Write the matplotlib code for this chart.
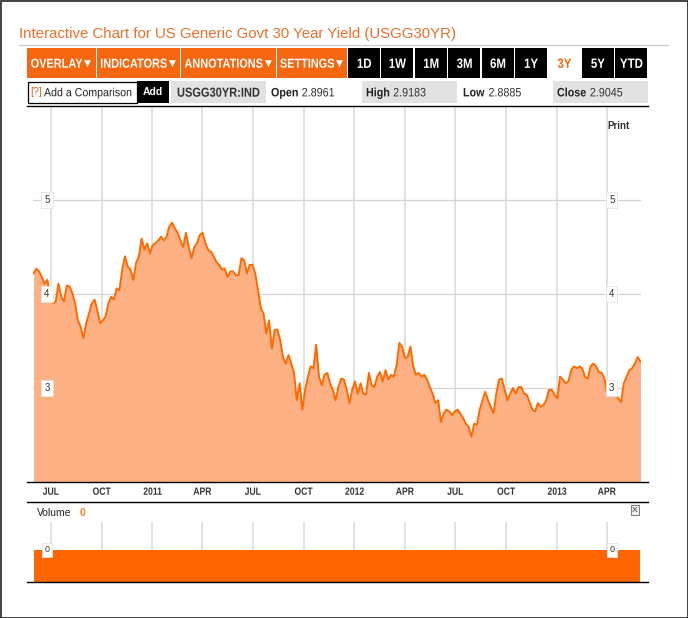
import matplotlib
matplotlib.use("Agg")
import numpy as np
import pandas as pd
import matplotlib.pyplot as plt
import matplotlib.dates as mdates
from matplotlib.patches import Rectangle, PathPatch
from matplotlib.textpath import TextPath
from matplotlib.font_manager import FontProperties
from matplotlib.transforms import Affine2D, blended_transform_factory

# 30 year yield (roughly every few trading days)
yields = [4.22, 4.27, 4.24, 4.18, 4.11, 4.15, 3.97, 3.90, 3.92, 4.11, 3.97, 3.92, 4.09, 4.08,
          4.01, 3.90, 3.72, 3.65, 3.53, 3.69, 3.79, 3.90, 3.94, 3.83, 3.69, 3.72, 3.76, 3.90,
          3.97, 3.94, 4.06, 4.04, 4.26, 4.40, 4.29, 4.26, 4.15, 4.33, 4.40, 4.59, 4.47, 4.54,
          4.43, 4.52, 4.54, 4.57, 4.61, 4.57, 4.61, 4.72, 4.76, 4.70, 4.65, 4.57, 4.50, 4.65,
          4.50, 4.38, 4.50, 4.54, 4.63, 4.65, 4.54, 4.47, 4.45, 4.40, 4.34, 4.31, 4.26, 4.27,
          4.18, 4.24, 4.24, 4.20, 4.20, 4.38, 4.36, 4.22, 4.31, 4.31, 4.22, 4.04, 3.85, 3.79,
          3.58, 3.72, 3.42, 3.62, 3.62, 3.51, 3.33, 3.26, 3.35, 3.26, 3.16, 2.87, 3.05, 2.77,
          2.98, 3.12, 3.23, 3.21, 3.46, 3.12, 3.03, 3.14, 3.16, 3.05, 2.98, 2.87, 3.01, 3.10,
          3.09, 2.98, 2.84, 2.98, 3.07, 2.94, 3.05, 2.94, 2.93, 3.16, 3.03, 3.01, 3.12, 3.17,
          3.07, 3.19, 3.09, 3.14, 3.12, 3.24, 3.48, 3.44, 3.32, 3.33, 3.44, 3.23, 3.14, 3.16,
          3.12, 3.14, 3.09, 3.01, 2.94, 2.84, 2.87, 2.64, 2.73, 2.77, 2.75, 2.71, 2.75, 2.77,
          2.73, 2.68, 2.62, 2.59, 2.48, 2.62, 2.61, 2.77, 2.87, 2.96, 2.87, 2.80, 2.73, 2.94,
          3.09, 3.10, 2.98, 2.87, 2.94, 3.00, 2.94, 3.01, 3.01, 2.94, 2.93, 2.85, 2.77, 2.75,
          2.84, 2.80, 2.82, 2.87, 2.98, 2.98, 2.93, 2.89, 3.12, 3.09, 3.05, 3.07, 3.19, 3.23,
          3.21, 3.23, 3.21, 3.12, 3.10, 3.23, 3.26, 3.23, 3.17, 3.16, 3.10, 2.94, 2.91, 2.93,
          2.93, 2.89, 2.85, 3.05, 3.12, 3.19, 3.21, 3.26, 3.33, 3.28]
dates = pd.date_range("2010-05-31", "2013-06-01", periods=len(yields))
volume = [0] * len(yields)

y_ticks = [3, 4, 5]
month_ticks = pd.date_range("2010-07-01", "2013-04-01", freq="QS")
month_labels = ["JUL", "OCT", "2011", "APR", "JUL", "OCT", "2012", "APR",
                "JUL", "OCT", "2013", "APR"]

buttons_menu = ["OVERLAY \u25BC", "INDICATORS \u25BC", "ANNOTATIONS \u25BC", "SETTINGS \u25BC"]
buttons_range = ["1D", "1W", "1M", "3M", "6M", "1Y", "3Y", "5Y", "YTD"]
quote = {"Open": "2.8961", "High": "2.9183", "Low": "2.8885", "Close": "2.9045"}

ORANGE = "#f7670f"
LINE = "#ff6a00"
FILL = "#fdb084"
GRID = "#dedede"
SANS = ["Liberation Sans", "DejaVu Sans"]

W, H = 688, 618
fig = plt.figure(figsize=(W / 100, H / 100), dpi=100)
fig.patch.set_facecolor("white")

def px_axes(x0, y0, x1, y1):
    return fig.add_axes([x0 / W, (H - y1) / H, (x1 - x0) / W, (y1 - y0) / H])

# ---- main chart ----
ax = px_axes(33, 106, 641, 482)
ax.fill_between(dates, 0, yields, color=FILL, lw=0, zorder=2)
ax.plot(dates, yields, color=LINE, lw=1.4, zorder=3)
ax.set_ylim(2, 6)
ax.set_xlim(pd.Timestamp("2010-05-30"), pd.Timestamp("2013-06-02"))
for d in month_ticks:
    ax.axvline(d, color=GRID, lw=1.3, zorder=1)
for v in y_ticks:
    ax.axhline(v, color="#d4d4d4", lw=0.9, zorder=1)
ax.set_yticks([])
ax.set_xticks([])
for s in ax.spines.values():
    s.set_visible(False)
bt = blended_transform_factory(ax.transAxes, ax.transData)
for v in y_ticks:
    for xa in (0.023, 0.952):
        ax.text(xa, v, str(v), transform=bt, ha="center", va="center", fontsize=7, color="#333333",
                family=SANS, zorder=5,
                bbox=dict(boxstyle="square,pad=0.3", fc="white", ec="#e4e4e4", lw=0.6))

# ---- volume panel ----
vax = px_axes(33, 522, 641, 582)
vax.set_xlim(ax.get_xlim())
vax.set_ylim(-1.0, 0.875)
vax.fill_between(dates, -1.0, volume, color="#ff6600", lw=0, zorder=2)
for d in month_ticks:
    vax.axvline(d, color=GRID, lw=1.3, zorder=1)
vax.set_xticks([])
vax.set_yticks([])
for s in vax.spines.values():
    s.set_visible(False)
vbt = blended_transform_factory(vax.transAxes, vax.transData)
for xa in (0.023, 0.952):
    vax.text(xa, 0, "0", transform=vbt, ha="center", va="center", fontsize=6.5, color="#333333",
             family=SANS, zorder=5,
             bbox=dict(boxstyle="square,pad=0.3", fc="white", ec="#e4e4e4", lw=0.6))

# ---- page furniture, drawn in pixel coordinates ----
ov = fig.add_axes([0, 0, 1, 1], zorder=10)
ov.set_xlim(0, W)
ov.set_ylim(H, 0)
ov.axis("off")
ov.patch.set_alpha(0)

def narrow(x, y, s, size, color, bold=True, ha="center", sx=0.8):
    # condensed text: text path squeezed horizontally (no narrow font installed)
    prop = FontProperties(family="Liberation Sans", weight="bold" if bold else "normal")
    parts = s.split("\u25BC")
    tp = TextPath((0, 0), parts[0].rstrip(), size=size, prop=prop)
    w = tp.get_extents().x1 * sx
    arrow = len(parts) > 1
    if ha == "center":
        x0 = x - w / 2 - (5 if arrow else 0)
    else:
        x0 = x
    tr = Affine2D().scale(sx, -1).translate(x0, y + size * 0.36)
    ov.add_patch(PathPatch(tr.transform_path(tp), fc=color, ec="none", lw=0))
    if arrow:
        ov.text(x0 + w + 2, y, "\u25BC", fontsize=size * 0.5, color=color, family="DejaVu Sans",
                ha="left", va="center")
    return x0 + w

# x axis labels, placed from the axis' own date scale
for d, lab in zip(month_ticks, month_labels):
    xp = ax.transData.transform((mdates.date2num(d), 2))[0]
    narrow(xp, 491, lab, 10.5, "#333333", sx=0.82)

ov.add_patch(Rectangle((0.5, 0.5), W - 1, H - 1, fill=False, ec="#222222", lw=1.2))
ov.text(19, 34, "Interactive Chart for US Generic Govt 30 Year Yield (USGG30YR)", fontsize=10.8,
        color="#ec6f2c", family=SANS, va="center", ha="left")
ov.plot([19, 668], [45, 45], color="#cccccc", lw=1)

menu_x = [(27, 96), (97, 180), (181, 276), (277, 347)]
for (x0, x1), lab in zip(menu_x, buttons_menu):
    ov.add_patch(Rectangle((x0, 48), x1 - x0, 30, fc=ORANGE, ec="none"))
    narrow((x0 + x1) / 2, 63, lab, 13, "white", sx=0.84)
for i, lab in enumerate(buttons_range):
    x0 = 348 + i * 33.4
    sel = lab == "3Y"
    ov.add_patch(Rectangle((x0, 48), 32, 30, fc="white" if sel else "black", ec="none"))
    narrow(x0 + 16, 63, lab, 13.5, ORANGE if sel else "white", sx=0.85)

# comparison / quote row
ov.add_patch(Rectangle((27.5, 81.5), 109, 21, fc="white", ec="black", lw=0.9))
ov.text(30, 92, "[?]", color="#d06a20", fontsize=7.5, family=SANS, va="center")
narrow(44, 92, "Add a Comparison", 11.8, "#222222", bold=False, ha="left", sx=0.9)
ov.add_patch(Rectangle((137, 81), 32, 22, fc="black", ec="none"))
ov.text(153, 92, "Add", color="white", fontsize=7.5, fontweight="bold", family=SANS,
        ha="center", va="center")
for x0, x1 in [(171, 266), (362, 457), (553, 648)]:
    ov.add_patch(Rectangle((x0, 81), x1 - x0, 22, fc="#e2e2e2", ec="none"))
narrow(177, 92, "USGG30YR:IND", 13, "#333333", ha="left", sx=0.85)
for (lab, val), xl in zip(quote.items(), [271, 366, 463, 557]):
    xe = narrow(xl, 92, lab, 12.2, "#222222", ha="left", sx=0.88)
    narrow(xe + 4, 92, val, 12.2, "#333333", bold=False, ha="left", sx=0.88)
ov.plot([27, 648], [106, 106], color="black", lw=1)

ov.text(618, 126, "Print", fontsize=7, fontweight="bold", color="#333333", family=SANS,
        ha="center", va="center")

ov.plot([27, 648], [482, 482], color="black", lw=1)
ov.plot([27, 648], [502, 502], color="black", lw=1)
ov.plot([27, 648], [582, 582], color="black", lw=1)
ov.text(37, 513, "Volume", fontsize=7.5, color="#222222", family=SANS, va="center")
ov.text(80, 513, "0", fontsize=7.5, color="#f08a1c", fontweight="bold", family=SANS, va="center")
ov.text(635, 510, "X", fontsize=6, color="#333333", family=SANS, ha="center", va="center",
        bbox=dict(boxstyle="square,pad=0.15", fc="#eeeeee", ec="#666666", lw=0.6))

fig.savefig("out.png", dpi=100)
